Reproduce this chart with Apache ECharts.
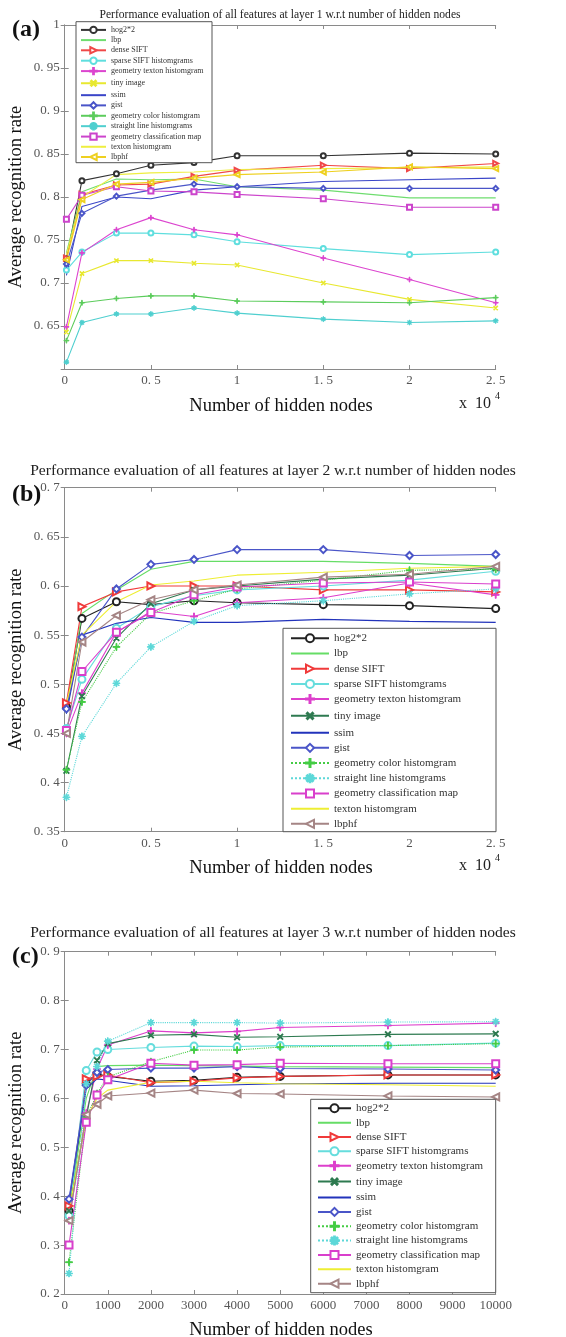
<!DOCTYPE html>
<html><head><meta charset="utf-8">
<script src="https://cdn.jsdelivr.net/npm/echarts@6/dist/echarts.min.js"></script>
<style>
html,body{margin:0;padding:0;background:#fff;}
.p{position:absolute;left:0;width:566px;}
</style></head>
<body>
<div id="ca" class="p" style="top:0;height:440px"></div>
<div id="cb" class="p" style="top:440px;height:460px"></div>
<div id="cc" class="p" style="top:900px;height:437px"></div>
<script>
// ---------------- DATA ----------------
var seriesNames = ['hog2*2','lbp','dense SIFT','sparse SIFT histomgrams','geometry texton histomgram','tiny image','ssim','gist','geometry color histomgram','straight line histomgrams','geometry classification map','texton histomgram','lbphf'];

// Panel (a): layer 1
var xA = [100, 1000, 3000, 5000, 7500, 10000, 15000, 20000, 25000];
var a_hog     = [0.728, 0.819, 0.827, 0.837, 0.840, 0.848, 0.848, 0.851, 0.850];
var a_lbp     = [0.735, 0.806, 0.821, 0.820, 0.821, 0.812, 0.808, 0.799, 0.799];
var a_dense   = [0.729, 0.803, 0.814, 0.815, 0.824, 0.831, 0.837, 0.833, 0.839];
var a_sparse  = [0.715, 0.736, 0.758, 0.758, 0.756, 0.748, 0.740, 0.733, 0.736];
var a_gtexton = [0.649, 0.735, 0.762, 0.776, 0.762, 0.756, 0.729, 0.704, 0.677];
var a_tiny    = [0.643, 0.711, 0.726, 0.726, 0.723, 0.721, 0.700, 0.681, 0.671];
var a_ssim    = [0.709, 0.789, 0.800, 0.798, 0.808, 0.812, 0.818, 0.820, 0.822];
var a_gist    = [0.722, 0.781, 0.801, 0.808, 0.815, 0.812, 0.810, 0.810, 0.810];
var a_gcolor  = [0.633, 0.677, 0.682, 0.685, 0.685, 0.679, 0.678, 0.677, 0.683];
var a_sline   = [0.608, 0.654, 0.664, 0.664, 0.671, 0.665, 0.658, 0.654, 0.656];
var a_gcmap   = [0.774, 0.802, 0.812, 0.807, 0.806, 0.803, 0.798, 0.788, 0.788];
var a_texton  = [0.733, 0.800, 0.826, 0.828, 0.829, 0.832, 0.833, 0.834, 0.835];
var a_lbphf   = [0.727, 0.797, 0.815, 0.817, 0.822, 0.826, 0.829, 0.835, 0.833];

// Panel (b): layer 2
var xB = [100, 1000, 3000, 5000, 7500, 10000, 15000, 20000, 25000];
var b_hog     = [0.477, 0.567, 0.584, 0.581, 0.585, 0.583, 0.581, 0.580, 0.577];
var b_lbp     = [0.470, 0.572, 0.596, 0.617, 0.625, 0.625, 0.625, 0.623, 0.620];
var b_dense   = [0.481, 0.579, 0.594, 0.600, 0.600, 0.600, 0.596, 0.596, 0.594];
var b_sparse  = [0.455, 0.505, 0.557, 0.579, 0.590, 0.596, 0.600, 0.606, 0.615];
var b_gtexton = [0.450, 0.491, 0.553, 0.574, 0.569, 0.583, 0.588, 0.603, 0.591];
var b_tiny    = [0.412, 0.488, 0.547, 0.582, 0.596, 0.600, 0.607, 0.611, 0.618];
var b_ssim    = [0.470, 0.550, 0.562, 0.568, 0.563, 0.563, 0.566, 0.564, 0.563];
var b_gist    = [0.475, 0.548, 0.597, 0.622, 0.627, 0.637, 0.637, 0.631, 0.632];
var b_gcolor  = [0.413, 0.482, 0.538, 0.572, 0.585, 0.597, 0.606, 0.616, 0.617];
var b_sline   = [0.385, 0.447, 0.501, 0.538, 0.564, 0.580, 0.585, 0.592, 0.597];
var b_gcmap   = [0.453, 0.513, 0.553, 0.573, 0.591, 0.599, 0.603, 0.604, 0.602];
var b_texton  = [0.480, 0.550, 0.584, 0.601, 0.605, 0.611, 0.614, 0.618, 0.620];
var b_lbphf   = [0.450, 0.543, 0.570, 0.586, 0.596, 0.601, 0.609, 0.612, 0.620];

// Panel (c): layer 3
var xC = [100, 500, 750, 1000, 2000, 3000, 4000, 5000, 7500, 10000];
var c_hog     = [0.370, 0.630, 0.650, 0.645, 0.635, 0.637, 0.643, 0.645, 0.648, 0.648];
var c_lbp     = [0.370, 0.600, 0.665, 0.667, 0.668, 0.667, 0.666, 0.665, 0.664, 0.663];
var c_dense   = [0.380, 0.640, 0.645, 0.648, 0.632, 0.635, 0.642, 0.645, 0.648, 0.648];
var c_sparse  = [0.360, 0.657, 0.695, 0.700, 0.704, 0.707, 0.706, 0.708, 0.708, 0.713];
var c_gtexton = [0.350, 0.570, 0.660, 0.709, 0.738, 0.734, 0.737, 0.745, 0.749, 0.754];
var c_tiny    = [0.370, 0.560, 0.678, 0.712, 0.729, 0.731, 0.725, 0.726, 0.731, 0.732];
var c_ssim    = [0.390, 0.620, 0.640, 0.637, 0.625, 0.626, 0.628, 0.630, 0.631, 0.631];
var c_gist    = [0.394, 0.627, 0.653, 0.659, 0.662, 0.662, 0.665, 0.661, 0.660, 0.658];
var c_gcolor  = [0.265, 0.560, 0.610, 0.644, 0.675, 0.699, 0.699, 0.705, 0.708, 0.712];
var c_sline   = [0.242, 0.630, 0.665, 0.717, 0.755, 0.755, 0.755, 0.754, 0.756, 0.757];
var c_gcmap   = [0.300, 0.551, 0.607, 0.638, 0.672, 0.668, 0.669, 0.672, 0.671, 0.671];
var c_texton  = [0.370, 0.560, 0.600, 0.617, 0.633, 0.635, 0.632, 0.630, 0.628, 0.625];
var c_lbphf   = [0.350, 0.567, 0.588, 0.605, 0.611, 0.617, 0.610, 0.609, 0.605, 0.603];

// ---------------- STYLE ----------------
var SERIF = '"Liberation Serif","DejaVu Serif",serif';
var PLUS = 'path://M4.4,0h1.2v10h-1.2zM0,4.4h10v1.2h-10z';
var STAR = 'path://M4.5,0h1v10h-1zM0,4.5h10v1h-10zM1.1,1.8l0.7,-0.7l7.1,7.1l-0.7,0.7zM8.2,1.1l0.7,0.7l-7.1,7.1l-0.7,-0.7z';
// symbol, rotate per series (null = no marker)
var marks = [
  ['emptyCircle',0], [null,0], ['emptyTriangle',-90], ['emptyCircle',0],
  [PLUS,0], [PLUS,45], [null,0], ['emptyDiamond',0], [PLUS,0],
  [STAR,0], ['emptyRect',0], [null,0], ['emptyTriangle',90]
];
var colorsA = ['#333333','#6fdd6f','#f04848','#5fdede','#dc45cf','#e8e830','#3a45c8','#4a55c8','#5ccc5c','#4fcfcf','#cc44cc','#eeee40','#eed020'];
var colorsBC = ['#222222','#66dd66','#f03a3a','#66dddd','#dd3fcc','#2e7a50','#2233bb','#4a55c8','#44cc44','#5cd8d8','#d93fcc','#eeee33','#a58585'];
var typesA = ['solid','solid','solid','solid','solid','solid','solid','solid','solid','solid','solid','solid','solid'];
var typesBC = ['solid','solid','solid','solid','solid','solid','solid','solid','dotted','dotted','solid','solid','solid'];

function fmtNum(v, d){ var s = String(Number(v.toFixed(d))); return s.replace('.', '. '); }

function build(cfg){
  var chart = echarts.init(document.getElementById(cfg.id), null, {renderer:'canvas'});
  var series = [];
  for (var i=0;i<seriesNames.length;i++){
    var pts = [];
    for (var j=0;j<cfg.x.length;j++) pts.push([cfg.x[j], cfg.data[i][j]]);
    var m = marks[i];
    var hasMark = m[0] !== null;
    series.push({
      name: seriesNames[i], type:'line', data: pts,
      symbol: hasMark ? m[0] : 'circle', symbolRotate: m[1], symbolSize: cfg.sym, showSymbol: hasMark,
      lineStyle: {color: cfg.colors[i], width: 1.1, type: cfg.types[i]},
      itemStyle: hasMark ? {color: cfg.colors[i], borderColor: cfg.colors[i], borderWidth: 1}
                         : {color: 'rgba(0,0,0,0)', borderColor: 'rgba(0,0,0,0)', borderWidth: 0},
      z: 2, animation:false, silent:true
    });
  }
  var axCommon = {
    axisLine:{show:true, lineStyle:{color:'#8a8a8a', width:1}},
    axisTick:{show:true, inside:true, length:4, lineStyle:{color:'#8a8a8a'}},
    splitLine:{show:false}
  };
  var g = cfg.grid;
  var xLabel = {show:true, color:'#555', fontFamily:SERIF, fontSize:13, margin:5, formatter: cfg.xfmt};
  var yLabel = {show:true, color:'#555', fontFamily:SERIF, fontSize:13, margin:5, formatter: cfg.yfmt};
  var opt = {
    animation:false,
    grid: {left:g.left, top:g.top, width:g.width, height:g.height, show:false},
    xAxis: [
      Object.assign({type:'value', min:cfg.xmin, max:cfg.xmax, interval:cfg.xint, position:'bottom', axisLabel:xLabel}, axCommon),
      Object.assign({type:'value', min:cfg.xmin, max:cfg.xmax, interval:cfg.xint, position:'top', axisLabel:{show:false}}, axCommon)
    ],
    yAxis: [
      Object.assign({type:'value', min:cfg.ymin, max:cfg.ymax, interval:cfg.yint, position:'left', axisLabel:yLabel}, axCommon),
      Object.assign({type:'value', min:cfg.ymin, max:cfg.ymax, interval:cfg.yint, position:'right', axisLabel:{show:false}}, axCommon)
    ],
    legend: {
      data: seriesNames, orient:'vertical', left: cfg.leg.left + cfg.leg.padL, top: cfg.leg.top + cfg.leg.padT,
      padding: 0, itemWidth: cfg.leg.iw, itemHeight: cfg.leg.ih, itemGap: cfg.leg.gap,
      textStyle: {fontFamily:SERIF, fontSize: cfg.leg.fs, color:'#333', padding:[0,0,0,0]},
      selectedMode:false, z:10
    },
    graphic: cfg.graphic.concat([
      {type:'rect', z:5, silent:true, shape:{x:cfg.leg.left, y:cfg.leg.top, width:cfg.leg.w, height:cfg.leg.h},
       style:{fill:'#fff', stroke:'#555', lineWidth:1}}
    ]),
    series: series
  };
  chart.setOption(opt);
  return chart;
}

function commonText(t){
  var arr = [
    {type:'text', silent:true, style:{text:t.title, x:t.tx, y:t.ty, fill:'#222', font:t.tfs+'px '+SERIF, textAlign:'center', textVerticalAlign:'middle'}},
    {type:'text', silent:true, style:{text:t.label, x:12, y:t.ly, fill:'#111', font:'bold 24px '+SERIF, textAlign:'left', textVerticalAlign:'middle'}},
    {type:'text', silent:true, rotation:Math.PI/2, x:16, y:t.plotTop + t.plotH/2,
     style:{text:'Average recognition rate', x:0, y:0, fill:'#111', font:'18.5px '+SERIF, textAlign:'center', textVerticalAlign:'middle'}},
    {type:'text', silent:true, style:{text:'Number of hidden nodes', x:281, y:t.xny, fill:'#111', font:'18.5px '+SERIF, textAlign:'center', textVerticalAlign:'middle'}}
  ];
  if (t.xpow){
    arr.push({type:'text', silent:true, style:{text:'x  10', x:459, y:t.xny-2, fill:'#222', font:'16px '+SERIF, textAlign:'left', textVerticalAlign:'middle'}});
    arr.push({type:'text', silent:true, style:{text:'4', x:495, y:t.xny-10, fill:'#222', font:'10px '+SERIF, textAlign:'left', textVerticalAlign:'middle'}});
  }
  return arr;
}

var xfmt104 = function(v){ return fmtNum(v/10000, 2); };

// Panel (a)
build({
  id:'ca', x:xA,
  data:[a_hog,a_lbp,a_dense,a_sparse,a_gtexton,a_tiny,a_ssim,a_gist,a_gcolor,a_sline,a_gcmap,a_texton,a_lbphf],
  colors:colorsA, types:typesA, sym:5,
  grid:{left:64.7, top:25, width:431, height:344},
  xmin:0, xmax:25000, xint:5000, ymin:0.6, ymax:1, yint:0.05,
  xfmt: xfmt104,
  yfmt: function(v){ if (Math.abs(v-0.6)<1e-6) return ''; return fmtNum(v,2); },
  leg:{left:76, top:21.7, w:136, h:141, padL:4, padT:4, iw:25, ih:8, gap:2.0, fs:8},
  graphic: commonText({title:'Performance evaluation of all features at layer 1 w.r.t number of hidden nodes', tx:280, ty:15, tfs:11.6,
    label:'(a)', ly:30, plotTop:25, plotH:344, xny:406, xpow:true})
});

// Panel (b)
build({
  id:'cb', x:xB,
  data:[b_hog,b_lbp,b_dense,b_sparse,b_gtexton,b_tiny,b_ssim,b_gist,b_gcolor,b_sline,b_gcmap,b_texton,b_lbphf],
  colors:colorsBC, types:typesBC, sym:7,
  grid:{left:64.7, top:47.7, width:431, height:344},
  xmin:0, xmax:25000, xint:5000, ymin:0.35, ymax:0.7, yint:0.05,
  xfmt: xfmt104,
  yfmt: function(v){ return fmtNum(v,2); },
  leg:{left:283, top:188.3, w:213, h:203.4, padL:7, padT:4.5, iw:38, ih:10, gap:4.2, fs:11},
  graphic: commonText({title:'Performance evaluation of all features at layer 2 w.r.t number of hidden nodes', tx:273, ty:31, tfs:15.6,
    label:'(b)', ly:55, plotTop:47.7, plotH:344, xny:428, xpow:true})
});

// Panel (c)
build({
  id:'cc', x:xC,
  data:[c_hog,c_lbp,c_dense,c_sparse,c_gtexton,c_tiny,c_ssim,c_gist,c_gcolor,c_sline,c_gcmap,c_texton,c_lbphf],
  colors:colorsBC, types:typesBC, sym:7,
  grid:{left:64.7, top:51.7, width:431, height:342.3},
  xmin:0, xmax:10000, xint:1000, ymin:0.2, ymax:0.9, yint:0.1,
  xfmt: function(v){ return String(v); },
  yfmt: function(v){ return fmtNum(v,1); },
  leg:{left:310.7, top:199.3, w:185, h:193.4, padL:6.3, padT:3.5, iw:33, ih:10, gap:3.35, fs:11},
  graphic: commonText({title:'Performance evaluation of all features at layer 3 w.r.t number of hidden nodes', tx:273, ty:33, tfs:15.6,
    label:'(c)', ly:57, plotTop:51.7, plotH:342.3, xny:430, xpow:false})
});
</script>
</body></html>
